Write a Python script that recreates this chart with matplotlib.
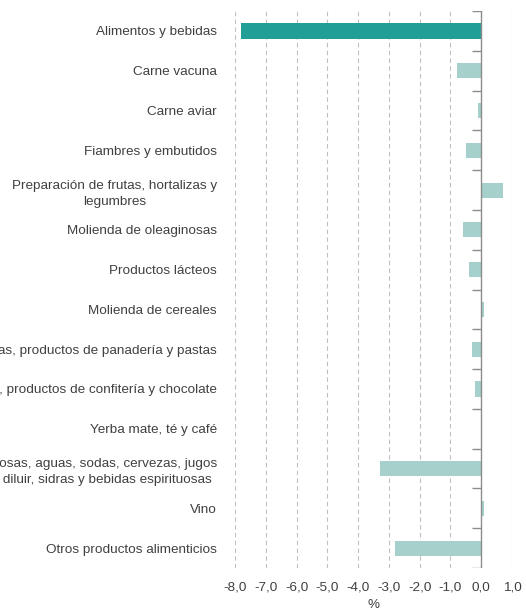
import matplotlib
matplotlib.use("Agg")
import matplotlib.pyplot as plt
import numpy as np

plt.rcParams['font.family'] = ['Liberation Sans', 'DejaVu Sans']

# categorias y variacion (%)
categorias = [
    "Alimentos y bebidas",
    "Carne vacuna",
    "Carne aviar",
    "Fiambres y embutidos",
    "Preparación de frutas, hortalizas y\nlegumbres",
    "Molienda de oleaginosas",
    "Productos lácteos",
    "Molienda de cereales",
    "Galletitas, productos de panadería y pastas",
    "Azúcar, productos de confitería y chocolate",
    "Yerba mate, té y café",
    "Gaseosas, aguas, sodas, cervezas, jugos\npara diluir, sidras y bebidas espirituosas",
    "Vino",
    "Otros productos alimenticios",
]
valores = [-7.8, -0.8, -0.1, -0.5, 0.7, -0.6, -0.4, 0.1, -0.3, -0.2, 0.0, -3.3, 0.1, -2.8]
xticks = [-8, -7, -6, -5, -4, -3, -2, -1, 0, 1]

color_total = "#219E96"
color_rama = "#A5D0CC"
gris_texto = "#404040"
fs = 9.7

fig = plt.figure(figsize=(5.26, 6.13), dpi=100)
ax = fig.add_axes([0.4468, 0.0734, 0.5266, 0.9086])

y = np.arange(len(categorias))
colores = [color_total] + [color_rama] * (len(categorias) - 1)
alturas = [0.42] + [0.38] * (len(categorias) - 1)
ax.barh(y, valores, height=alturas, color=colores, zorder=3)

ax.set_xlim(-8, 1)
ax.set_ylim(len(categorias) - 0.5, -0.5)

# grilla vertical punteada
for xv in xticks:
    if xv != 0:
        ax.axvline(xv, color="#BFBFBF", linestyle=(0, (4, 3)), linewidth=0.8, zorder=1)
ax.axvline(0, color="#8C8C8C", linewidth=1.0, zorder=4)
# marcas del eje de categorias
bordes = np.arange(-0.5, len(categorias), 1.0)
ax.hlines(bordes, -0.3, 0, color="#8C8C8C", linewidth=1.0, zorder=4)

for s in ax.spines.values():
    s.set_visible(False)

ax.set_yticks(y)
ax.set_yticklabels(categorias, fontsize=fs, color=gris_texto, multialignment="center", linespacing=1.45)
ax.tick_params(axis="y", length=0, pad=13)

ax.set_xticks(xticks)
ax.set_xticklabels([f"{v:.1f}".replace(".", ",") for v in xticks], fontsize=fs, color=gris_texto)
ax.tick_params(axis="x", length=0, pad=10)
ax.set_xlabel("%", fontsize=fs, color=gris_texto, labelpad=4)

fig.savefig("out.png", dpi=100)
